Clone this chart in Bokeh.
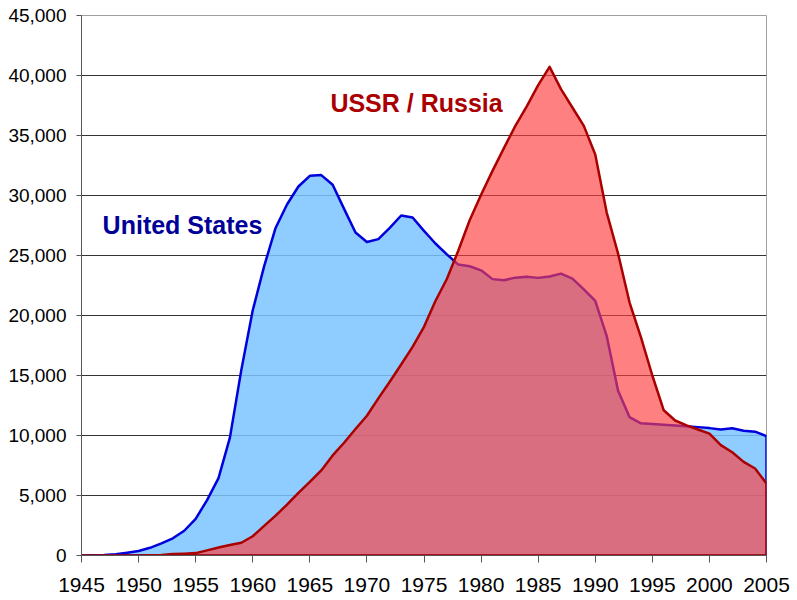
from bokeh.plotting import figure
from bokeh.models import Range1d, FixedTicker, NumeralTickFormatter, Label
from bokeh.embed import file_html
from bokeh.resources import INLINE

years = list(range(1945, 2006))

us_stockpile = [
    6, 11, 32, 110, 235, 369, 640, 1005, 1436, 2063,
    3057, 4618, 6444, 9822, 15468, 20434, 24111, 27297, 29249, 30751,
    31642, 31700, 30893, 28884, 26910, 26119, 26365, 27296, 28335, 28170,
    27052, 26000, 25099, 24243, 24107, 23764, 23031, 22937, 23154, 23228,
    23135, 23254, 23490, 23077, 22174, 21211, 18306, 13731, 11536, 11012,
    10953, 10886, 10829, 10763, 10698, 10615, 10491, 10600, 10404, 10321,
    9950,
]

ussr_stockpile = [
    0, 0, 0, 0, 1, 5, 25, 50, 120, 150,
    200, 426, 660, 869, 1060, 1605, 2471, 3322, 4238, 5221,
    6129, 7089, 8339, 9399, 10538, 11643, 13092, 14478, 15915, 17385,
    19055, 21205, 23044, 25393, 27935, 30062, 32049, 33952, 35804, 37431,
    39197, 40723, 38859, 37333, 35805, 33417, 28595, 25155, 21101, 18200,
    15000, 12100, 11250, 10850, 10500, 10150, 9200, 8600, 7800, 7250,
    6000,
]

x_ticks = list(range(1945, 2006, 5))
y_ticks = list(range(0, 45001, 5000))

p = figure(width=797, height=600, output_backend="svg", toolbar_location=None,
           x_range=Range1d(1945, 2005), y_range=Range1d(0, 45000),
           min_border_left=81, min_border_right=31, min_border_top=15,
           min_border_bottom=45)

p.background_fill_color = "white"
p.border_fill_color = "white"
p.outline_line_color = "#A0A0A0"
p.outline_line_width = 1

p.xgrid.visible = False
p.ygrid.ticker = FixedTicker(ticks=y_ticks)
p.ygrid.grid_line_color = "#333333"
p.ygrid.grid_line_width = 1

p.xaxis.ticker = FixedTicker(ticks=x_ticks)
p.yaxis.ticker = FixedTicker(ticks=y_ticks)
p.yaxis.formatter = NumeralTickFormatter(format="0,0")
for ax in (p.xaxis, p.yaxis):
    ax.axis_line_color = "#555555"
    ax.major_tick_line_color = "#555555"
    ax.minor_tick_line_color = None
    ax.major_tick_in = 0
    ax.major_label_text_font = "Liberation Sans"
    ax.major_label_text_color = "black"
p.yaxis.major_tick_out = 5
p.yaxis.major_label_standoff = 10
p.yaxis.major_label_text_font_size = "19px"
p.xaxis.major_tick_out = 7
p.xaxis.major_label_standoff = 15
p.xaxis.major_label_text_font_size = "21px"

# US area (closed polygon from data)
us_x = years + [years[-1], years[0]]
us_y = us_stockpile + [0, 0]
p.patch(us_x, us_y, fill_color="#7BC3FF", fill_alpha=0.85,
        line_color="#0000DD", line_width=2.5, line_join="round")

# USSR area (semi-transparent over US)
ru_x = years + [years[-1], years[0]]
ru_y = ussr_stockpile + [0, 0]
p.patch(ru_x, ru_y, fill_color="#FF3C3C", fill_alpha=0.65,
        line_color="#AA0000", line_width=2.5, line_join="round")

p.add_layout(Label(x=1946.85, y=27580, text="United States",
                   text_font="Liberation Sans", text_font_style="bold",
                   text_font_size="25px", text_color="#000099",
                   text_baseline="alphabetic"))
p.add_layout(Label(x=1966.8, y=37730, text="USSR / Russia",
                   text_font="Liberation Sans", text_font_style="bold",
                   text_font_size="25px", text_color="#AA0000",
                   text_baseline="alphabetic"))

open("out.html", "w").write(file_html(p, INLINE))
